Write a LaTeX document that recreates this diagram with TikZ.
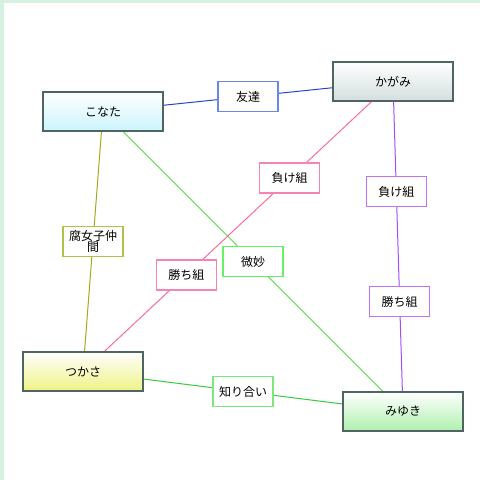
\documentclass[tikz,border=0pt]{standalone}
\usepackage{fontspec}
\setmainfont{Noto Sans CJK JP}
\usetikzlibrary{calc,backgrounds}
\definecolor{nborder}{HTML}{506464}
\definecolor{bgstrip}{HTML}{D6F0E2}
\definecolor{cKonata}{HTML}{CCF4FC}
\definecolor{cKagami}{HTML}{D4DEDE}
\definecolor{cTsukasa}{HTML}{EEF284}
\definecolor{cMiyuki}{HTML}{AEF0AE}
\definecolor{lBlue}{HTML}{2845C8}
\definecolor{bBlue}{HTML}{6A86E6}
\definecolor{lOlive}{HTML}{A8A820}
\definecolor{bOlive}{HTML}{B4C04C}
\definecolor{lGreen}{HTML}{50E040}
\definecolor{bGreen}{HTML}{66F066}
\definecolor{lPink}{HTML}{FF6A9A}
\definecolor{bPink}{HTML}{F484B4}
\definecolor{lPurple}{HTML}{A44CF0}
\definecolor{bPurple}{HTML}{BC74F4}
\definecolor{lGreenB}{HTML}{3CC83C}
\definecolor{bGreenB}{HTML}{7CE87C}
\tikzset{
  person/.style={rectangle, draw=nborder, line width=1.6pt, minimum width=120pt, minimum height=39pt, top color=white, font=\fontsize{12}{14}\selectfont, inner sep=0pt},
  lbl/.style={rectangle, fill=white, line width=1.6pt, minimum width=60pt, minimum height=30pt, font=\fontsize{12}{12}\selectfont, align=center, inner sep=0pt},
  edge/.style={line width=1pt}
}
\begin{document}
\begin{tikzpicture}[x=1pt,y=-1pt]
\useasboundingbox (0,0) rectangle (480,480);
\fill[bgstrip] (0,0) rectangle (480,2.5);
\fill[bgstrip] (0,0) rectangle (3.5,480);
\node[person, bottom color=cKonata] (konata) at (103,111.5) {こなた};
\node[person, bottom color=cKagami] (kagami) at (393,81.5) {かがみ};
\node[person, bottom color=cTsukasa] (tsukasa) at (83,371.5) {つかさ};
\node[person, bottom color=cMiyuki] (miyuki) at (403,411.5) {みゆき};
\node[lbl, draw=bBlue] (tomodachi) at ($(konata)!0.5!(kagami)$) {友達};
\node[lbl, draw=bOlive] (fujoshi) at ($(konata)!0.5!(tsukasa)$) {腐女子仲\\[-1pt]間};
\node[lbl, draw=bGreen] (bimyou) at ($(konata)!0.5!(miyuki)$) {微妙};
\node[lbl, draw=bPink] (makeP) at ($(kagami)!0.3333!(tsukasa)$) {負け組};
\node[lbl, draw=bPink] (kachiP) at ($(kagami)!0.6667!(tsukasa)$) {勝ち組};
\node[lbl, draw=bPurple] (makeV) at ($(kagami)!0.3333!(miyuki)$) {負け組};
\node[lbl, draw=bPurple] (kachiV) at ($(kagami)!0.6667!(miyuki)$) {勝ち組};
\node[lbl, draw=bGreenB] (shiriai) at ($(tsukasa)!0.5!(miyuki)$) {知り合い};
\begin{scope}[on background layer]
\draw[edge, lBlue] (konata) -- (kagami);
\draw[edge, lOlive] (konata) -- (tsukasa);
\draw[edge, lGreen] (konata) -- (miyuki);
\draw[edge, lPink] (kagami) -- (tsukasa);
\draw[edge, lPurple] (kagami) -- (miyuki);
\draw[edge, lGreenB] (tsukasa) -- (miyuki);
\end{scope}
\end{tikzpicture}
\end{document}
